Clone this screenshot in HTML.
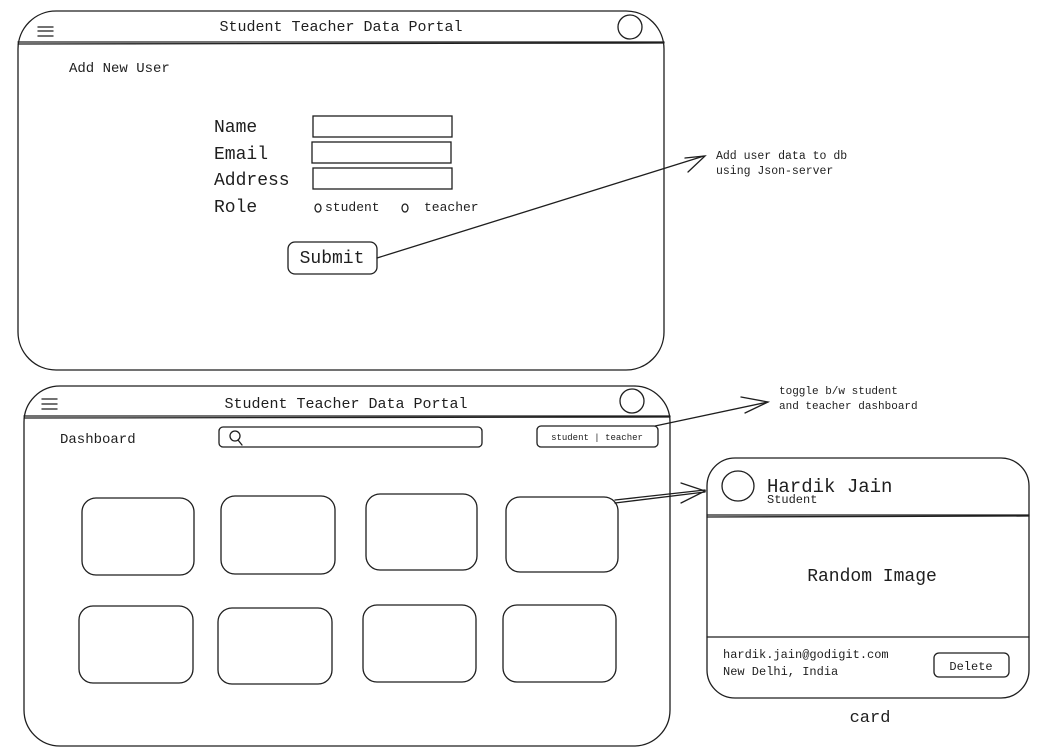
<!DOCTYPE html>
<html><head><meta charset="utf-8"><style>
html,body{margin:0;padding:0;background:#fff;width:1044px;height:755px;overflow:hidden}
svg text{font-family:"Liberation Mono",monospace;fill:#1e1e1e}
</style></head><body>
<svg width="1044" height="755" viewBox="0 0 1044 755" xmlns="http://www.w3.org/2000/svg">
<g fill="none" stroke="#1e1e1e" stroke-width="1.3" stroke-linecap="round">
<rect x="18" y="11" width="646" height="359" rx="38"/>
<line x1="18" y1="42" x2="664" y2="42"/><line x1="18" y1="44" x2="664" y2="43"/>
<line x1="38" y1="27" x2="53" y2="27"/><line x1="38" y1="31" x2="53" y2="31"/><line x1="38" y1="36" x2="53" y2="36"/>
<ellipse cx="630" cy="27" rx="12" ry="12"/>
<rect x="313" y="116" width="139" height="21"/>
<rect x="312" y="142" width="139" height="21"/>
<rect x="313" y="168" width="139" height="21"/>
<ellipse cx="318" cy="208" rx="3" ry="4"/><ellipse cx="405" cy="208" rx="3" ry="4"/>
<rect x="288" y="242" width="89" height="32" rx="7"/>
<path d="M377 258 L704 156"/><path d="M685 158 L705 156 L688 172"/>
<rect x="24" y="386" width="646" height="360" rx="36"/>
<line x1="24" y1="416" x2="670" y2="416"/><line x1="24" y1="418" x2="670" y2="417"/>
<line x1="42" y1="399" x2="57" y2="399"/><line x1="42" y1="404" x2="57" y2="404"/><line x1="42" y1="409" x2="57" y2="409"/>
<ellipse cx="632" cy="401" rx="12" ry="12"/>
<rect x="219" y="427" width="263" height="20" rx="4"/>
<circle cx="235" cy="436" r="5"/><line x1="238" y1="440" x2="242" y2="445"/>
<rect x="537" y="426" width="121" height="21" rx="4"/>
<path d="M655 426 L768 402"/><path d="M741 397 L768 402 L745 413"/>
<rect x="82" y="498" width="112" height="77" rx="14"/>
<rect x="221" y="496" width="114" height="78" rx="14"/>
<rect x="366" y="494" width="111" height="76" rx="14"/>
<rect x="506" y="497" width="112" height="75" rx="14"/>
<rect x="79" y="606" width="114" height="77" rx="14"/>
<rect x="218" y="608" width="114" height="76" rx="14"/>
<rect x="363" y="605" width="113" height="77" rx="14"/>
<rect x="503" y="605" width="113" height="77" rx="14"/>
<path d="M615 500 L705 490"/><path d="M615 503 L705 492"/><path d="M681 483 L705 491 L681 503"/>
<rect x="707" y="458" width="322" height="240" rx="28"/>
<ellipse cx="738" cy="486" rx="16" ry="15"/>
<line x1="707" y1="515" x2="1029" y2="515"/><line x1="707" y1="517" x2="1029" y2="516"/>
<line x1="707" y1="637" x2="1029" y2="637"/>
<rect x="934" y="653" width="75" height="24" rx="5"/>
</g>
<text x="341" y="31" font-size="15" text-anchor="middle">Student Teacher Data Portal</text>
<text x="69" y="72" font-size="14">Add New User</text>
<text x="214" y="132" font-size="18">Name</text>
<text x="214" y="159" font-size="18">Email</text>
<text x="214" y="185" font-size="18">Address</text>
<text x="214" y="212" font-size="18">Role</text>
<text x="325" y="211" font-size="13">student</text>
<text x="424" y="211" font-size="13">teacher</text>
<text x="332" y="263" font-size="18" text-anchor="middle">Submit</text>
<text x="716" y="159" font-size="11.5">Add user data to db</text>
<text x="716" y="174" font-size="11.5">using Json-server</text>
<text x="346" y="408" font-size="15" text-anchor="middle">Student Teacher Data Portal</text>
<text x="60" y="443" font-size="14">Dashboard</text>
<text x="597" y="440" font-size="9" text-anchor="middle">student | teacher</text>
<text x="779" y="394" font-size="11">toggle b/w student</text>
<text x="779" y="409" font-size="11">and teacher dashboard</text>
<text x="767" y="492" font-size="19">Hardik Jain</text>
<text x="767" y="503" font-size="12">Student</text>
<text x="872" y="581" font-size="18" text-anchor="middle">Random Image</text>
<text x="723" y="658" font-size="12">hardik.jain@godigit.com</text>
<text x="723" y="675" font-size="12">New Delhi, India</text>
<text x="971" y="670" font-size="12" text-anchor="middle">Delete</text>
<text x="870" y="722" font-size="17" text-anchor="middle">card</text>
</svg>
</body></html>
